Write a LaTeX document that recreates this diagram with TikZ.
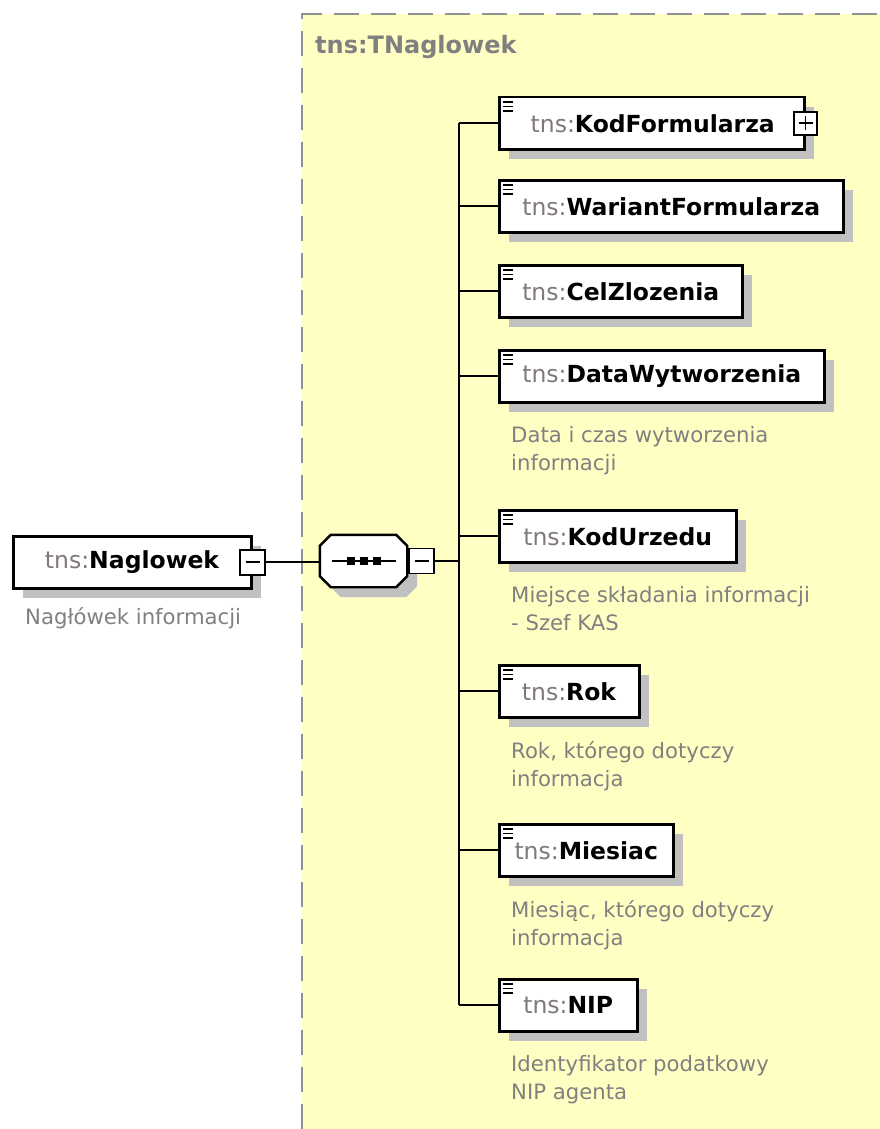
\documentclass[tikz,border=0pt]{standalone}
\usepackage{fontspec}
\setmainfont{DejaVu Sans}
\usetikzlibrary{shadows,calc}
\definecolor{bgyellow}{RGB}{255,255,196}
\definecolor{shgray}{RGB}{192,192,192}
\definecolor{tnsgray}{RGB}{128,120,124}
\definecolor{descgray}{RGB}{128,128,128}
\definecolor{borderg}{RGB}{145,145,145}
\newcommand\tnsname[1]{\textcolor{tnsgray}{tns:}\textbf{#1}}
\newcommand\elfont{\fontsize{23.5}{28}\selectfont}
\newcommand\descfont{\fontsize{21.2}{28}\selectfont}
\begin{document}
\begin{tikzpicture}[x=1pt,y=-1pt,
  elbox/.style={draw=black, line width=2.5pt, fill=white, inner xsep=0pt, inner ysep=0pt,
    minimum height=52pt, anchor=north west, font=\elfont,
    drop shadow={shadow xshift=10pt, shadow yshift=-10pt, opacity=1, fill=shgray}},
  desc/.style={anchor=north west, inner sep=0pt, align=left, font=\descfont, text=descgray},
  pmbox/.style={draw=black, line width=1.9pt, fill=white, minimum width=25pt, minimum height=25pt, inner sep=0pt},
  conn/.style={draw=black, line width=2.2pt},
  icon/.style={line width=1.9pt}
]
\useasboundingbox (0,0) rectangle (880,1129);
% type region
\fill[bgyellow] (302,14) rectangle (880,1129);
\draw[borderg, line width=2pt, dash pattern=on 25pt off 12pt] (302,1129) -- (302,14) -- (880,14);
\node[anchor=west, inner sep=0pt, font=\bfseries\fontsize{24}{26}\selectfont, text=descgray] (title) at (315,47) {tns:TNaglowek};

% root element
\node[elbox, minimum width=238pt] (nag) at (12,535) {\tnsname{Naglowek}\hspace{16pt}};
\node[pmbox] (nagminus) at (nag.east) {};
\draw[line width=1.8pt] ($(nagminus.center)+(-7,0)$) -- ($(nagminus.center)+(7,0)$);
\node[desc] (nagdesc) at (25,607) {Nagłówek informacji};

% sequence compositor
\node[minimum width=87pt, minimum height=52pt, inner sep=0pt] (seq) at (363.5,561) {};
\fill[shgray] ($(seq.north west)+(21,10)$) -- ($(seq.north east)+(-1,10)$) -- ($(seq.north east)+(10,21)$)
  -- ($(seq.south east)+(10,-1)$) -- ($(seq.south east)+(-1,10)$) -- ($(seq.south west)+(21,10)$)
  -- ($(seq.south west)+(10,-1)$) -- ($(seq.north west)+(10,21)$) -- cycle;
\draw[fill=white, line width=2.4pt] ($(seq.north west)+(11,0)$) -- ($(seq.north east)+(-11,0)$) -- ($(seq.north east)+(0,11)$)
  -- ($(seq.south east)+(0,-11)$) -- ($(seq.south east)+(-11,0)$) -- ($(seq.south west)+(11,0)$)
  -- ($(seq.south west)+(0,-11)$) -- ($(seq.north west)+(0,11)$) -- cycle;
\draw[line width=2.2pt] ($(seq.west)+(12,0)$) -- ($(seq.east)+(-11,0)$);
\foreach \dx in {-12.5,0.5,13.5}
  \fill ($(seq.center)+(\dx-4,-4)$) rectangle +(8,8);
\node[pmbox, anchor=west] (seqminus) at ($(seq.east)+(1,0)$) {};
\draw[line width=1.8pt] ($(seqminus.center)+(-7,0)$) -- ($(seqminus.center)+(7,0)$);

\draw[conn] (nagminus.east) -- (nagminus.east -| seq.west);

% children
\node[elbox, minimum width=305pt] (kod) at (498,96) {\hspace{2pt}\tnsname{KodFormularza}\hspace{10pt}};
\node[pmbox, minimum width=23pt, minimum height=23pt] (kodplus) at (kod.east) {};
\draw[line width=1.8pt] ($(kodplus.center)+(-7,0)$) -- ($(kodplus.center)+(7,0)$)
  ($(kodplus.center)+(0,-7)$) -- ($(kodplus.center)+(0,7)$);

\node[elbox, minimum width=344pt] (war) at (498,179) {\tnsname{WariantFormularza}};
\node[elbox, minimum width=243pt] (cel) at (498,264) {\tnsname{CelZlozenia}};
\node[elbox, minimum width=325pt] (dat) at (498,349) {\tnsname{DataWytworzenia}};
\node[desc] (datdesc) at ($(dat.south west)+(13,23)$) {Data i czas wytworzenia\\informacji};
\node[elbox, minimum width=237pt] (urz) at (498,509) {\tnsname{KodUrzedu}};
\node[desc] (urzdesc) at ($(urz.south west)+(13,23)$) {Miejsce składania informacji\\- Szef KAS};
\node[elbox, minimum width=140pt] (rok) at (498,664) {\tnsname{Rok}};
\node[desc] (rokdesc) at ($(rok.south west)+(13,23)$) {Rok, którego dotyczy\\informacja};
\node[elbox, minimum width=174pt] (mie) at (498,823) {\tnsname{Miesiac}};
\node[desc] (miedesc) at ($(mie.south west)+(13,23)$) {Miesiąc, którego dotyczy\\informacja};
\node[elbox, minimum width=138pt] (nip) at (498,978) {\tnsname{NIP}};
\node[desc] (nipdesc) at ($(nip.south west)+(13,23)$) {Identyfikator podatkowy\\NIP agenta};

% element icons
\foreach \n in {kod,war,cel,dat,urz,rok,mie,nip} {
  \draw[icon] ($(\n.north west)+(5,6)$) -- +(10,0)
              ($(\n.north west)+(5,10.5)$) -- +(10,0)
              ($(\n.north west)+(5,15)$) -- +(10,0);
}

% trunk
\coordinate (trunk) at (459,561);
\draw[conn] (seqminus.east) -- (seqminus.east -| trunk);
\draw[conn] (trunk |- kod.west) -- (trunk |- nip.west);
\foreach \n in {kod,war,cel,dat,urz,rok,mie,nip}
  \draw[conn] (trunk |- \n.west) -- (\n.west);
\end{tikzpicture}
\end{document}
